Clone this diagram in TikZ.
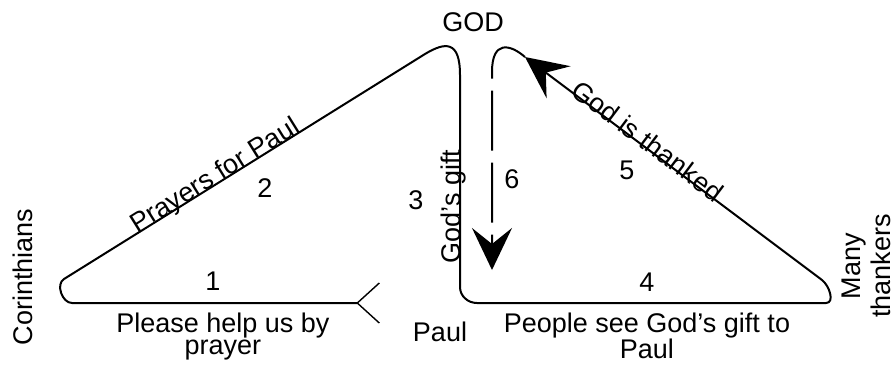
\documentclass[tikz,border=0pt]{standalone}
\usepackage{fontspec}
\setmainfont{Liberation Sans}
\usetikzlibrary{arrows.meta}

\begin{document}
\begin{tikzpicture}[x=0.5pt, y=-0.5pt,
    actor/.style={font=\fontsize{13.5}{15}\selectfont, inner sep=0pt, align=center},
    msg/.style={font=\fontsize{13.5}{11}\selectfont, inner sep=0pt, align=center},
    num/.style={font=\fontsize{13.5}{13}\selectfont, inner sep=0pt},
    along/.style={font=\fontsize{13.5}{13}\selectfont, inner sep=0pt, anchor=base},
    flow/.style={line width=1pt},
    barb/.style={-{Stealth[length=21pt, width=20pt, inset=8pt]}},
    tailbarb/.style={{Straight Barb[reversed, length=11pt, width=20pt, line width=0.7pt]}-{Stealth[length=21pt, width=20pt, inset=8pt]}}]
    \useasboundingbox (0,0) rectangle (895,365);

    % the four parties
    \node[actor] (god) at (473,22) {GOD};
    \node[actor, rotate=90] (cor) at (23,277) {Corinthians};
    \node[actor] (paul) at (440,332) {Paul};
    \node[actor, rotate=90] (many) at (866,266) {Many\\thankers};

    % turning points of the flow
    \coordinate (tail) at (380,303);
    \coordinate (corA) at (72,303);
    \coordinate (corB) at (64,279);
    \coordinate (godA) at (425,54);
    \coordinate (godB) at (460,75);
    \coordinate (paulA) at (460,287);
    \coordinate (paulB) at (477,303);
    \coordinate (manyA) at (826,303);
    \coordinate (manyB) at (822,280);
    \coordinate (godC) at (525,57);
    \coordinate (godD) at (492,72);
    \coordinate (paulC) at (492,270);

    % steps
    \node[num] (s1) at (213,281) {1};
    \node[num] (s2) at (265,188) {2};
    \node[num] (s3) at (416,200) {3};
    \node[num] (s4) at (647,282) {4};
    \node[num] (s5) at (627,170) {5};
    \node[num] (s6) at (512,179) {6};

    \draw[flow, tailbarb] (tail)
        -- node[msg, pos=0.51, below=4.5pt] {Please help us by\\prayer} (corA)
        to[out=180, in=211] (corB)
        -- node[along, pos=0.43, sloped] {Prayers for Paul} (godA)
        .. controls (445,42) and (460,40) .. (godB)
        -- node[along, pos=0.62, rotate=90] {God's gift} (paulA)
        to[out=-90, in=180] (paulB)
        -- node[msg, pos=0.487, below=4.5pt, font=\fontsize{13.5}{13}\selectfont] {People see God's gift to\\Paul} (manyA)
        to[out=0, in=-37] (manyB)
        -- node[along, pos=0.6, sloped, yshift=-1.5pt] {God is thanked} (godC);
    \draw[flow, dash pattern=on 30pt off 6pt, barb] (godC)
        .. controls (510,44) and (492,40) .. (godD) -- (paulC);
\end{tikzpicture}
\end{document}
